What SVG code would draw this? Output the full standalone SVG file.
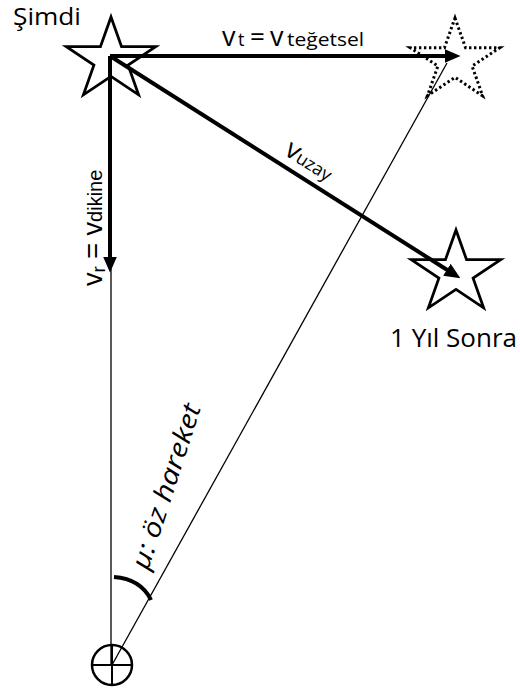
<svg xmlns="http://www.w3.org/2000/svg" width="520" height="693" viewBox="0 0 520 693">
<style>
.star{fill:#fff;stroke:#000;stroke-width:2.8;stroke-linejoin:miter}
.dotted{fill:none;stroke:#000;stroke-width:3;stroke-dasharray:2.4 2.6}
.thick{stroke:#000;stroke-width:4;fill:none}
.thin{stroke:#000;stroke-width:1.3;fill:none}
.lbl{font-family:"Open Sans","Liberation Sans",sans-serif;fill:#000}
.arial{font-family:"Liberation Sans",Arial,sans-serif;fill:#000}
</style>
<defs>
<path id="starshape" d="M0,-43 L10.55,-13.3 L44.7,-13.3 L17.1,5.1 L27.6,34.8 L0,16.4 L-27.6,34.8 L-17.1,5.1 L-44.7,-13.3 L-10.55,-13.3 Z"/>
<marker id="ah" viewBox="0 -8 16 16" markerWidth="16" markerHeight="16" refX="0.5" refY="0" orient="auto" markerUnits="userSpaceOnUse">
<path d="M0,-7 L16,0 L0,7 Z" fill="#000"/>
</marker>
</defs>
<g id="star-now">
<use href="#starshape" class="star" transform="translate(111,60)"/>
<text class="lbl" x="13" y="24.6" font-size="23" textLength="68" lengthAdjust="spacingAndGlyphs">Şimdi</text>
</g>
<g id="star-later">
<use href="#starshape" class="star" transform="translate(456,273)"/>
<text class="lbl" x="390" y="347" font-size="25" textLength="127" lengthAdjust="spacingAndGlyphs">1 Yıl Sonra</text>
</g>
<g id="star-tangent">
<use href="#starshape" class="dotted" transform="translate(455,61)"/>
</g>
<g id="observer">
<circle cx="112" cy="665" r="20" fill="none" stroke="#000" stroke-width="2.5"/>
<line x1="92" y1="665" x2="132" y2="665" stroke="#000" stroke-width="2"/>
<line x1="112" y1="645" x2="112" y2="685" stroke="#000" stroke-width="2"/>
</g>
<g id="connectors">
<line class="thin" x1="111" y1="265" x2="111" y2="665"/>
<line class="thin" x1="112" y1="665" x2="447" y2="63"/>
<line class="thick" x1="110" y1="56" x2="445" y2="56" marker-end="url(#ah)"/>
<line class="thick" x1="110" y1="56" x2="110" y2="257" marker-end="url(#ah)"/>
<line class="thick" x1="110" y1="56" x2="447.3" y2="270" marker-end="url(#ah)"/>
<path d="M114,577 Q141,579 151,600" stroke="#000" stroke-width="4" fill="none"/>
</g>
<g id="labels">
<text class="lbl" y="46"><tspan x="222" font-size="27">v</tspan><tspan x="238" font-size="18">t</tspan><tspan x="250" font-size="26">=</tspan><tspan x="270" font-size="27">v</tspan><tspan x="287" font-size="18" textLength="77" lengthAdjust="spacingAndGlyphs">teğetsel</tspan></text>
<text class="arial" transform="translate(102,286) rotate(-90)"><tspan x="0" font-size="27">v</tspan><tspan font-size="19" dy="3">r</tspan><tspan font-size="27" dy="-3"> = v</tspan><tspan font-size="20">dikine</tspan></text>
<text class="lbl" transform="translate(283,154) rotate(32.3)"><tspan font-size="27">v</tspan><tspan font-size="18">uzay</tspan></text>
<text class="lbl" font-style="italic" font-size="26" transform="translate(148,571) rotate(-72)" textLength="172" lengthAdjust="spacingAndGlyphs">μ: öz hareket</text>
</g>
</svg>
